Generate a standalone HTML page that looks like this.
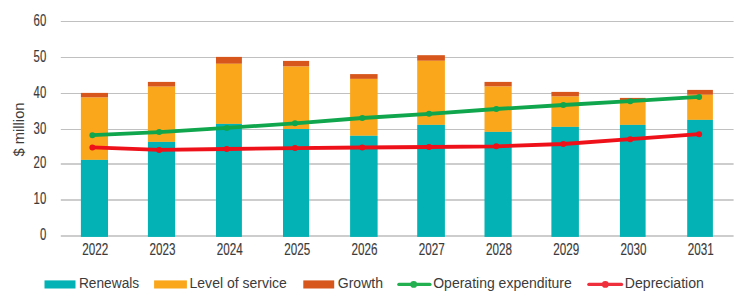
<!DOCTYPE html><html><head><meta charset="utf-8"><style>html,body{margin:0;padding:0;background:#fff;}svg{display:block;}text{font-family:"Liberation Sans",sans-serif;fill:#3B3B3B;}.d{stroke:#3B3B3B;stroke-width:0.15px;}</style></head><body>
<svg width="750" height="305" viewBox="0 0 750 305">
<rect x="0" y="0" width="750" height="305" fill="#fff"/>
<line x1="60.80" y1="21.50" x2="733.60" y2="21.50" stroke="#C0C0C0" stroke-width="1"/>
<line x1="60.80" y1="57.50" x2="733.60" y2="57.50" stroke="#C0C0C0" stroke-width="1"/>
<line x1="60.80" y1="93.50" x2="733.60" y2="93.50" stroke="#C0C0C0" stroke-width="1"/>
<line x1="60.80" y1="129.50" x2="733.60" y2="129.50" stroke="#C0C0C0" stroke-width="1"/>
<line x1="60.80" y1="164.00" x2="733.60" y2="164.00" stroke="#CDCDCD" stroke-width="2"/>
<line x1="60.80" y1="200.00" x2="733.60" y2="200.00" stroke="#CDCDCD" stroke-width="2"/>
<line x1="60.80" y1="236.00" x2="733.60" y2="236.00" stroke="#CDCDCD" stroke-width="2"/>
<text x="0" y="0" font-size="16" class="d" text-anchor="end" transform="translate(46.2,25.60) scale(0.71,1)">60</text>
<text x="0" y="0" font-size="16" class="d" text-anchor="end" transform="translate(46.2,61.60) scale(0.71,1)">50</text>
<text x="0" y="0" font-size="16" class="d" text-anchor="end" transform="translate(46.2,97.60) scale(0.71,1)">40</text>
<text x="0" y="0" font-size="16" class="d" text-anchor="end" transform="translate(46.2,133.60) scale(0.71,1)">30</text>
<text x="0" y="0" font-size="16" class="d" text-anchor="end" transform="translate(46.2,168.10) scale(0.71,1)">20</text>
<text x="0" y="0" font-size="16" class="d" text-anchor="end" transform="translate(46.2,204.10) scale(0.71,1)">10</text>
<text x="0" y="0" font-size="16" class="d" text-anchor="end" transform="translate(46.2,240.10) scale(0.71,1)">0</text>
<rect x="80.90" y="92.90" width="27.10" height="4.70" fill="#D6561C"/>
<rect x="80.90" y="97.60" width="27.10" height="62.30" fill="#FAA71B"/>
<rect x="80.90" y="159.90" width="27.10" height="77.00" fill="#02B2B4"/>
<text x="0" y="0" font-size="16" class="d" text-anchor="middle" transform="translate(95.30,254.8) scale(0.73,1)">2022</text>
<rect x="147.90" y="81.90" width="27.20" height="4.80" fill="#D6561C"/>
<rect x="147.90" y="86.70" width="27.20" height="55.20" fill="#FAA71B"/>
<rect x="147.90" y="141.90" width="27.20" height="95.00" fill="#02B2B4"/>
<text x="0" y="0" font-size="16" class="d" text-anchor="middle" transform="translate(162.58,254.8) scale(0.73,1)">2023</text>
<rect x="216.00" y="56.90" width="25.90" height="6.90" fill="#D6561C"/>
<rect x="216.00" y="63.80" width="25.90" height="60.10" fill="#FAA71B"/>
<rect x="216.00" y="123.90" width="25.90" height="113.00" fill="#02B2B4"/>
<text x="0" y="0" font-size="16" class="d" text-anchor="middle" transform="translate(229.86,254.8) scale(0.73,1)">2024</text>
<rect x="283.00" y="60.90" width="26.10" height="5.70" fill="#D6561C"/>
<rect x="283.00" y="66.60" width="26.10" height="62.45" fill="#FAA71B"/>
<rect x="283.00" y="129.05" width="26.10" height="107.85" fill="#02B2B4"/>
<text x="0" y="0" font-size="16" class="d" text-anchor="middle" transform="translate(297.14,254.8) scale(0.73,1)">2025</text>
<rect x="350.10" y="74.10" width="27.50" height="4.80" fill="#D6561C"/>
<rect x="350.10" y="78.90" width="27.50" height="56.90" fill="#FAA71B"/>
<rect x="350.10" y="135.80" width="27.50" height="101.10" fill="#02B2B4"/>
<text x="0" y="0" font-size="16" class="d" text-anchor="middle" transform="translate(364.42,254.8) scale(0.73,1)">2026</text>
<rect x="417.20" y="55.20" width="27.70" height="5.60" fill="#D6561C"/>
<rect x="417.20" y="60.80" width="27.70" height="64.10" fill="#FAA71B"/>
<rect x="417.20" y="124.90" width="27.70" height="112.00" fill="#02B2B4"/>
<text x="0" y="0" font-size="16" class="d" text-anchor="middle" transform="translate(431.70,254.8) scale(0.73,1)">2027</text>
<rect x="484.50" y="81.90" width="27.20" height="4.70" fill="#D6561C"/>
<rect x="484.50" y="86.60" width="27.20" height="45.30" fill="#FAA71B"/>
<rect x="484.50" y="131.90" width="27.20" height="105.00" fill="#02B2B4"/>
<text x="0" y="0" font-size="16" class="d" text-anchor="middle" transform="translate(498.98,254.8) scale(0.73,1)">2028</text>
<rect x="551.40" y="91.90" width="27.50" height="4.70" fill="#D6561C"/>
<rect x="551.40" y="96.60" width="27.50" height="30.30" fill="#FAA71B"/>
<rect x="551.40" y="126.90" width="27.50" height="110.00" fill="#02B2B4"/>
<text x="0" y="0" font-size="16" class="d" text-anchor="middle" transform="translate(566.26,254.8) scale(0.73,1)">2029</text>
<rect x="619.90" y="97.90" width="25.70" height="4.10" fill="#D6561C"/>
<rect x="619.90" y="102.00" width="25.70" height="22.90" fill="#FAA71B"/>
<rect x="619.90" y="124.90" width="25.70" height="112.00" fill="#02B2B4"/>
<text x="0" y="0" font-size="16" class="d" text-anchor="middle" transform="translate(633.54,254.8) scale(0.73,1)">2030</text>
<rect x="687.20" y="89.90" width="25.70" height="4.90" fill="#D6561C"/>
<rect x="687.20" y="94.80" width="25.70" height="25.10" fill="#FAA71B"/>
<rect x="687.20" y="119.90" width="25.70" height="117.00" fill="#02B2B4"/>
<text x="0" y="0" font-size="16" class="d" text-anchor="middle" transform="translate(700.82,254.8) scale(0.73,1)">2031</text>
<path d="M92.40 135.20 L159.20 132.10 L226.70 127.90 L295.00 123.30 L362.30 118.00 L429.00 113.80 L496.30 109.00 L563.30 105.00 L630.30 101.20 L699.10 96.90" fill="none" stroke="#0FA64D" stroke-width="3.8" stroke-linejoin="round" stroke-linecap="round"/>
<circle cx="92.40" cy="135.20" r="3.0" fill="#0FA64D"/>
<circle cx="159.20" cy="132.10" r="3.0" fill="#0FA64D"/>
<circle cx="226.70" cy="127.90" r="3.0" fill="#0FA64D"/>
<circle cx="295.00" cy="123.30" r="3.0" fill="#0FA64D"/>
<circle cx="362.30" cy="118.00" r="3.0" fill="#0FA64D"/>
<circle cx="429.00" cy="113.80" r="3.0" fill="#0FA64D"/>
<circle cx="496.30" cy="109.00" r="3.0" fill="#0FA64D"/>
<circle cx="563.30" cy="105.00" r="3.0" fill="#0FA64D"/>
<circle cx="630.30" cy="101.20" r="3.0" fill="#0FA64D"/>
<circle cx="699.10" cy="96.90" r="3.0" fill="#0FA64D"/>
<path d="M92.40 147.40 L159.20 149.90 L226.70 149.00 L295.00 148.10 L362.30 147.50 L429.00 147.00 L496.30 146.30 L563.30 144.00 L630.30 139.20 L699.10 134.20" fill="none" stroke="#EE1119" stroke-width="3.8" stroke-linejoin="round" stroke-linecap="round"/>
<circle cx="92.40" cy="147.40" r="3.0" fill="#EE1119"/>
<circle cx="159.20" cy="149.90" r="3.0" fill="#EE1119"/>
<circle cx="226.70" cy="149.00" r="3.0" fill="#EE1119"/>
<circle cx="295.00" cy="148.10" r="3.0" fill="#EE1119"/>
<circle cx="362.30" cy="147.50" r="3.0" fill="#EE1119"/>
<circle cx="429.00" cy="147.00" r="3.0" fill="#EE1119"/>
<circle cx="496.30" cy="146.30" r="3.0" fill="#EE1119"/>
<circle cx="563.30" cy="144.00" r="3.0" fill="#EE1119"/>
<circle cx="630.30" cy="139.20" r="3.0" fill="#EE1119"/>
<circle cx="699.10" cy="134.20" r="3.0" fill="#EE1119"/>
<text x="0" y="0" font-size="14.5" text-anchor="middle" transform="translate(24,129.5) rotate(-90) scale(1.02,1)">$ million</text>
<rect x="44.5" y="280.4" width="31" height="8.1" fill="#02B2B4"/>
<rect x="154.1" y="280.4" width="32.8" height="8.1" fill="#FAA71B"/>
<rect x="303.3" y="280.4" width="30.9" height="8.1" fill="#D6561C"/>
<line x1="398.9" y1="284.4" x2="429.9" y2="284.4" stroke="#22B050" stroke-width="3.4" stroke-linecap="round"/><circle cx="413.7" cy="284.4" r="3.4" fill="#22B050"/>
<line x1="588.9" y1="284.4" x2="621.5" y2="284.4" stroke="#EF2F3C" stroke-width="3.4" stroke-linecap="round"/><circle cx="605.3" cy="284.4" r="3.4" fill="#EF2F3C"/>
<text x="0" y="0" font-size="14.5" transform="translate(78.94,287.60) scale(0.947,1)">Renewals</text>
<text x="0" y="0" font-size="14.5" transform="translate(189.53,287.60) scale(0.968,1)">Level of service</text>
<text x="0" y="0" font-size="14.5" transform="translate(337.72,287.60) scale(0.970,1)">Growth</text>
<text x="0" y="0" font-size="14.5" transform="translate(433.23,287.60) scale(0.966,1)">Operating expenditure</text>
<text x="0" y="0" font-size="14.5" transform="translate(624.82,287.60) scale(0.972,1)">Depreciation</text>
</svg></body></html>
